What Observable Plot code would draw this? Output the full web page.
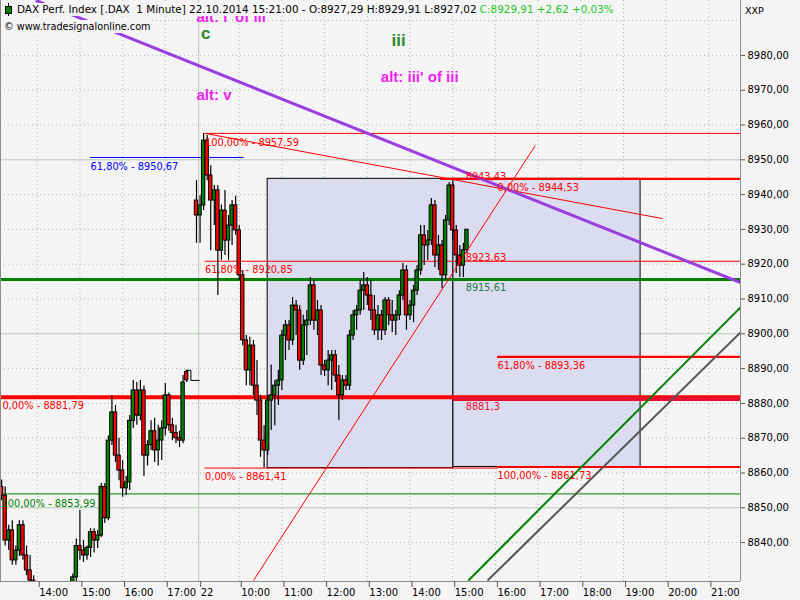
<!DOCTYPE html>
<html><head><meta charset="utf-8">
<script src="https://cdn.jsdelivr.net/npm/d3@7"></script>
<script src="https://cdn.jsdelivr.net/npm/@observablehq/plot@0.6"></script>
<style>
body{margin:0;background:#f4f4f4;}
#wrap{position:relative;width:800px;height:600px;overflow:hidden;}
#wrap svg.plot{position:absolute;left:0;top:0;}
.hdr{position:absolute;background:#f4f4f4;font-family:"DejaVu Sans",sans-serif;white-space:pre;color:#000;z-index:2;}
.ico{position:absolute;z-index:3;}
</style></head><body>
<div id="wrap"></div>
<script>
// ---------- data ----------
const candleDay1Start = "13:10", candleDay1Count = 53;   // 21.10.2014, 5-minute bars
const candleDay2Start = "9:00",  candleDay2Count = 77;   // 22.10.2014
const candleOpen = [
 8856,8853.5,8840.6,8843.5,8834.9,8837.7,8845,8836.3,8832,8829.1,
 8824.5,8820,8818,8821,8819,8822,8824,8823,8825,8826,8827,8830,
 8839,8837.7,8836.3,8838.5,8843,8840.6,8842,8856,8847,8869.3,8877.4,8865,
 8860.7,8855.6,8857.3,8875,8883.7,8876.5,8883.7,8865,8868,8872,8866.5,8869.3,
 8872.8,8882.3,8873.7,8871.5,8870,8869.3,8889,
 8938.3,8934.0,8936.9,8955.5,8945.5,8938.3,8941.2,8923.9,8935.4,8926.8,8931.1,8936.9,
 8929.7,8916.8,8898.1,8889.5,8896.6,8885.1,8880.8,8869.3,8866.5,8880.8,8882.3,8885.1,
 8886.6,8899.5,8902.4,8898.1,8908.1,8906.7,8892.3,8902.4,8903.8,8913.9,8903.8,8906.7,
 8890.9,8889.5,8892.3,8893.8,8888.0,8882.3,8886.6,8885.1,8899.5,8905.3,8906.7,8912.4,
 8913.9,8911.0,8906.7,8901.0,8905.3,8901.0,8909.6,8905.3,8903.8,8905.3,8911.0,8918.2,
 8905.3,8908.1,8912.4,8918.2,8928.3,8925.4,8926.8,8936.9,8922.5,8925.4,8916.8,8932.6,
 8942.6,8929.7,8922.5,8919.6,8924.0];
const candleHigh = [
 8858,8856,8845,8846.3,8839,8846.3,8846.3,8839,8836.3,8830.5,
 8827,8824,8823,8826,8825,8827,8828,8827,8828,8828.5,8831,8841,
 8849.2,8840.6,8839,8844,8844,8843.5,8857,8857,8870.6,8882.2,8879.4,8870,
 8863.6,8859,8876.5,8886.6,8886,8886.6,8885,8869.3,8875,8875.7,8873.7,8875,
 8885.7,8883,8875.7,8873.7,8872,8888,8889.5,
 8944.0,8939.7,8957.59,8957.0,8948.3,8942.6,8942.6,8937.0,8941.2,8934.0,8938.3,8939.5,
 8931.1,8918.2,8899.5,8899.0,8898.1,8892.3,8882.3,8873.6,8882.3,8891.0,8886.6,8889.5,
 8901.0,8903.8,8903.8,8910.4,8909.6,8908.1,8905.3,8906.7,8916.2,8915.3,8909.6,8908.1,
 8892.3,8895.2,8895.2,8895.2,8890.9,8888.0,8888.0,8901.0,8906.7,8908.1,8915.3,8917.6,
 8916.2,8915.3,8911.0,8908.1,8906.7,8910.4,8910.4,8909.6,8906.7,8912.4,8920.2,8919.6,
 8909.6,8913.9,8919.6,8931.1,8931.1,8929.7,8938.9,8938.3,8928.3,8926.8,8934.0,8943.43,
 8943.0,8931.1,8925.4,8926.0,8929.91];
const candleLow = [
 8852,8839,8837.7,8833.5,8833.5,8836,8834.9,8830.5,8827.7,8823,
 8818,8815,8814,8817,8815,8818,8819,8820,8821,8822,8825,8828.5,
 8834.9,8834.3,8834.9,8835.7,8837,8838.3,8841.4,8845.5,8846.3,8867.9,8863,8857.8,
 8853,8853.5,8855,8872.8,8873.7,8875,8859,8862,8866.5,8863,8862,8863.6,
 8870.6,8872,8869.3,8868.4,8867.3,8868.4,8886,
 8926.0,8926.0,8935.4,8944.0,8923.9,8931.1,8911.0,8921.1,8922.5,8921.1,8925.4,8928.3,
 8915.3,8896.6,8885.1,8885.1,8882.3,8876.5,8864.5,8861.41,8865.0,8872.2,8873.6,8879.4,
 8883.7,8892.3,8895.2,8896.6,8899.5,8889.5,8890.9,8893.8,8902.4,8901.0,8899.5,8888.0,
 8887.7,8885.1,8883.7,8886.0,8875.1,8880.8,8883.7,8883.7,8898.1,8901.0,8905.3,8906.7,
 8908.1,8903.8,8899.5,8898.1,8898.1,8899.5,8902.4,8900.4,8899.5,8903.8,8909.6,8901.0,
 8903.8,8903.2,8911.0,8916.8,8919.6,8921.1,8925.4,8919.0,8918.2,8913.0,8915.3,8931.1,
 8926.8,8917.3,8916.2,8916.2,8923.0];
const candleClose = [
 8853.5,8840.6,8843.5,8834.9,8837.7,8845,8836.3,8832,8829.1,8824.5,
 8820,8818,8821,8819,8822,8824,8823,8825,8826,8827,8830,8839,
 8837.7,8836.3,8838.5,8843,8840.6,8842,8856,8847,8869.3,8877.4,8865,8860.7,
 8855.6,8857.3,8875,8883.7,8876.5,8883.7,8865,8868,8872,8866.5,8869.3,8872.8,
 8882.3,8873.7,8871.5,8870,8869.3,8886,8886.6,
 8934.0,8936.9,8955.5,8945.5,8938.3,8941.2,8923.9,8935.4,8926.8,8931.1,8936.9,8929.7,
 8916.8,8898.1,8889.5,8896.6,8885.1,8880.8,8869.3,8866.5,8880.8,8882.3,8885.1,8886.6,
 8899.5,8902.4,8898.1,8908.1,8906.7,8892.3,8902.4,8903.8,8913.9,8903.8,8906.7,8890.9,
 8889.5,8892.3,8893.8,8888.0,8882.3,8886.6,8885.1,8899.5,8905.3,8906.7,8912.4,8913.9,
 8911.0,8906.7,8901.0,8905.3,8901.0,8909.6,8905.3,8903.8,8905.3,8911.0,8918.2,8905.3,
 8908.1,8912.4,8918.2,8928.3,8925.4,8926.8,8936.9,8922.5,8925.4,8916.8,8932.6,8942.6,
 8929.7,8922.5,8919.6,8924.0,8929.91];

// previous-close step after the 21.10 session
const closeStepTimes = ["21 17:29","21 17:36","22 9:04"];
const closeStepValues = [8889.5, 8886.6, 8886.6];

// x axis ticks
const xTickTimes = ["21 14:00","21 15:00","21 16:00","21 17:00","22 9:03","22 10:00","22 11:00","22 12:00","22 13:00","22 14:00","22 15:00","22 16:00","22 17:00","22 18:00","22 19:00","22 20:00","22 21:00"];
const xTickLabels = ["14:00","15:00","16:00","17:00","22","10:00","11:00","12:00","13:00","14:00","15:00","16:00","17:00","18:00","19:00","20:00","21:00"];
const yTicks = [8840,8850,8860,8870,8880,8890,8900,8910,8920,8930,8940,8950,8960,8970,8980];

// Fibonacci set from the 22.10 high
const fibAValues = [8957.59, 8920.85, 8861.41];
const fibALabels = ["100,00% - 8957,59","61,80% - 8920,85","0,00% - 8861,41"];
const fibAFrom = "22 9:12";
const fibATo = ["END","END","22 16:03"];
// Fibonacci projection
const fibBValues = [8944.53, 8893.36, 8861.73];
const fibBLabels = ["0,00% - 8944,53","61,80% - 8893,36","100,00% - 8861,73"];
const fibBFrom = ["22 14:43","22 16:03","22 16:03"];
const fibBLabelAt = "22 16:03";
// Fibonacci set from 21.10
const fibCValues = [8881.79, 8853.99];
const fibCLabels = ["0,00% - 8881,79","100,00% - 8853,99"];
const blueValue = 8950.67, blueLabel = "61,80% - 8950,67", blueFrom = "21 15:15", blueTo = "22 10:07";
// support / resistance
const greenLevel = 8915.61, greenLabel = "8915,61";
const pivotLevel = 8881.3, pivotLabel = "8881,3";
const lastBarTime = "22 15:21";
const trendValueLabels = ["8943,43","8923,63"];
const trendValueAtLast = [8943.43, 8923.63];

// trend lines [from, to, price from, price to]
const purpleLine = ["21 13:58","END", 8995.8, 8914.7];
const redFanLine = ["22 9:12","22 19:55", 8957.59, 8933.1];
const redSteepLine = ["22 10:20","22 16:56", 8829.1, 8954.1];
const greenChannel = ["22 15:22","END", 8829.1, 8907.6];
const grayChannel = ["22 15:49","END", 8829.1, 8900.4];

// boxes
const boxFrom = ["22 10:40","22 15:01"];
const boxTo = ["22 15:01","22 19:24"];
const boxLow = [8861.41, 8861.73];
const boxHigh = [8944.53, 8944.53];

// wave labels
const waveTexts = ["alt: i' of iii","c","alt: v","iii","alt: iii' of iii"];
const waveTimes = ["22 9:00","22 9:13","22 9:00","22 13:44","22 13:19"];
const wavePrices = [8991.0, 8986.3, 8968.5, 8984.3, 8973.6];

// ---------- time mapping (two sessions, overnight gap removed) ----------
const SHIFT = 8.7307, U0 = 13.1405, U1 = 30.4707;
const YMIN = 8828.82, YMAX = 8995.78;
function T(s){
  if (s === "START") return U0;
  if (s === "END") return U1;
  const [d, hm] = s.split(" ");
  const [h, m] = hm.split(":").map(Number);
  return h + m/60 + (d === "22" ? SHIFT : 0);
}
function seq(day, start, n){
  const [h,m] = start.split(":").map(Number);
  return Array.from({length:n}, (_, i) => { const t = h*60 + m + 5*i; return `${day} ${Math.floor(t/60)}:${String(t%60).padStart(2,"0")}`; });
}
const candleTimes = [...seq("21", candleDay1Start, candleDay1Count), ...seq("22", candleDay2Start, candleDay2Count)];
const candles = candleTimes.map((t,i) => ({t:T(t), o:candleOpen[i], h:candleHigh[i], l:candleLow[i], c:candleClose[i]}));
const up = candles.filter(d => d.c >= d.o), dn = candles.filter(d => d.c < d.o);
const HALF = 1.7/42.7;

const xTickU = xTickTimes.map(T);
const tickLabel = new Map(xTickU.map((u,i) => [u, xTickLabels[i]]));
const dayTick = T("22 9:03");
const GRID = "#a9bca9", GRIDS = "#b8c8b8";
const RED = "#ff0000", CRIMSON = "#e8102e", GREEN = "#008000", PURPLE = "#9a3ee0";
const LBL = "DejaVu Sans";

const seg = (a) => [{x1:T(a[0]), x2:T(a[1]), y1:a[2], y2:a[3]}];
const fibA = fibAValues.map((v,i) => ({v, a:T(fibAFrom), b:T(fibATo[i]), label:fibALabels[i]}));
const fibB = fibBValues.map((v,i) => ({v, a:T(fibBFrom[i]), b:U1, la:T(fibBLabelAt), label:fibBLabels[i]}));
const boxes = boxFrom.map((f,i) => ({x1:T(f), x2:T(boxTo[i]), y1:boxLow[i], y2:boxHigh[i]}));
const waves = waveTexts.map((t,i) => ({t, x:T(waveTimes[i]), y:wavePrices[i]}));
const last = T(lastBarTime);

const chart = Plot.plot({
  width: 800, height: 600,
  marginTop: 0, marginLeft: 0, marginRight: 60, marginBottom: 19,
  x: {domain: [U0, U1], axis: null},
  y: {domain: [YMIN, YMAX], axis: null},
  style: {background: "#f4f4f4", fontFamily: LBL, fontSize: "10px", color: "#000"},
  marks: [
    // grid
    Plot.ruleY(yTicks.filter(v => v % 50 !== 0).concat([8990]), {stroke: GRID, strokeDasharray: "1,3"}),
    Plot.ruleY(yTicks.filter(v => v % 50 === 0), {stroke: GRIDS}),
    Plot.ruleX(xTickU.filter(u => u !== dayTick), {stroke: GRID, strokeDasharray: "1,3"}),
    Plot.ruleX([dayTick], {stroke: GRIDS}),
    // boxes
    Plot.rect(boxes, {x1:"x1", x2:"x2", y1:"y1", y2:"y2", fill: "#dcdcf0", stroke: "#000", strokeWidth: 1}),
    // level lines
    Plot.ruleY([fibCValues[1]], {stroke: GREEN, strokeWidth: 1}),
    Plot.ruleY([fibCValues[0]], {stroke: RED, strokeWidth: 4}),
    Plot.ruleY([{v: pivotLevel}], {y: "v", x1: T("22 15:01"), x2: U1, stroke: CRIMSON, strokeWidth: 4}),
    Plot.ruleY([greenLevel], {stroke: GREEN, strokeWidth: 3}),
    Plot.ruleY([{v: blueValue}], {y: "v", x1: T(blueFrom), x2: T(blueTo), stroke: "#0000ff", strokeWidth: 1}),
    Plot.ruleY(fibA, {y: "v", x1: "a", x2: "b", stroke: RED, strokeWidth: 1}),
    Plot.ruleY(fibB, {y: "v", x1: "a", x2: "b", stroke: RED, strokeWidth: 2.2}),
    // candles
    Plot.ruleX(candles, {x: "t", y1: "l", y2: "h", stroke: "#000", strokeWidth: 1.2, clip: true}),
    Plot.rect(up, {x1: d => d.t - HALF, x2: d => d.t + HALF, y1: "o", y2: "c", fill: GREEN, stroke: "#000", strokeWidth: 1, clip: true}),
    Plot.rect(dn, {x1: d => d.t - HALF, x2: d => d.t + HALF, y1: "o", y2: "c", fill: RED, stroke: "#000", strokeWidth: 1, clip: true}),
    Plot.line(closeStepTimes.map((t,i) => ({x: T(t), y: closeStepValues[i]})), {x: "x", y: "y", curve: "step-after", stroke: "#000", strokeWidth: 1}),
    // trend lines
    Plot.link(seg(redFanLine), {x1:"x1", x2:"x2", y1:"y1", y2:"y2", stroke: RED, strokeWidth: 1, clip: true}),
    Plot.link(seg(redSteepLine), {x1:"x1", x2:"x2", y1:"y1", y2:"y2", stroke: RED, strokeWidth: 1, clip: true}),
    Plot.link(seg(greenChannel), {x1:"x1", x2:"x2", y1:"y1", y2:"y2", stroke: GREEN, strokeWidth: 2, clip: true}),
    Plot.link(seg(grayChannel), {x1:"x1", x2:"x2", y1:"y1", y2:"y2", stroke: "#555555", strokeWidth: 2, clip: true}),
    Plot.link(seg(purpleLine), {x1:"x1", x2:"x2", y1:"y1", y2:"y2", stroke: PURPLE, strokeWidth: 3, clip: true}),
    // level labels
    Plot.text(fibA, {x: "a", y: "v", text: "label", textAnchor: "start", dy: 9, fill: RED, fontSize: 9.8}),
    Plot.text(fibB, {x: "la", y: "v", text: "label", textAnchor: "start", dy: 9, fill: RED, fontSize: 9.8}),
    Plot.text([blueLabel], {x: T(blueFrom), y: blueValue, text: d => d, textAnchor: "start", dy: 9, fill: "#0000ff", fontSize: 9.8}),
    Plot.text([fibCLabels[0]], {x: U0, y: fibCValues[0], text: d => d, textAnchor: "start", dx: 2, dy: 9, fill: RED, fontSize: 9.8}),
    Plot.text([fibCLabels[1]], {x: U0, y: fibCValues[1], text: d => d, textAnchor: "start", dx: 1, dy: 10, fill: GREEN, fontSize: 9.8}),
    Plot.text([greenLabel], {x: last, y: greenLevel, text: d => d, textAnchor: "start", dx: -2, dy: 8, fill: "#1d7a45", fontSize: 9.8}),
    Plot.text([pivotLabel], {x: last, y: pivotLevel, text: d => d, textAnchor: "start", dx: -2, dy: 8, fill: CRIMSON, fontSize: 9.8}),
    Plot.text([trendValueLabels[0]], {x: last, y: trendValueAtLast[0], text: d => d, textAnchor: "start", dx: -2, dy: -6, fill: RED, fontSize: 9.8}),
    Plot.text([trendValueLabels[1]], {x: last, y: trendValueAtLast[1], text: d => d, textAnchor: "start", dx: -2, dy: 6, fill: RED, fontSize: 9.8}),
    // wave labels
    Plot.text(waves.filter(d => d.t === "c" || d.t === "iii"), {x: "x", y: "y", text: "t", textAnchor: "middle", fill: "#2a8a2a", fontSize: 17, fontWeight: "bold", fontFamily: "Liberation Sans"}),
    Plot.text(waves.filter(d => d.t !== "c" && d.t !== "iii"), {x: "x", y: "y", text: "t", textAnchor: "start", fill: "#ee22ee", fontSize: 15, fontWeight: "bold", fontFamily: "Liberation Sans"}),
    // axes and frame
    Plot.ruleX([U0], {stroke: "#8c8c8c"}),
    Plot.ruleX([U1], {stroke: "#8c8c8c"}),
    Plot.ruleY([YMIN], {stroke: "#8c8c8c"}),
    Plot.axisY(yTicks, {anchor: "right", tickSize: 4, tickPadding: 3, tickFormat: d => d.toFixed(2).replace(".", ","), fontSize: 10, stroke: "#555"}),
    Plot.axisX(xTickU, {anchor: "bottom", tickSize: 6, tickPadding: 1, textAnchor: "start", dx: 2, tickFormat: d => tickLabel.get(d), fontSize: 10, stroke: "#555"})
  ]
});
chart.classList.add("plot");
const wrap = document.getElementById("wrap");
wrap.appendChild(chart);

// header overlay
function addDiv(cls, css, html){ const d = document.createElement("div"); d.className = cls; d.style.cssText = css; d.innerHTML = html; wrap.appendChild(d); return d; }
addDiv("hdr", "left:3px;top:3px;width:14px;height:13px;", "");
addDiv("ico", "left:8px;top:3px;width:1px;height:13px;background:#000;", "");
addDiv("ico", "left:5px;top:6px;width:5px;height:6px;background:#008000;border:1px solid #000;", "");
addDiv("hdr", "left:17px;top:3px;font-size:10.4px;line-height:13px;padding-right:2px;",
  'DAX Perf. Index [.DAX  1 Minute] 22.10.2014 15:21:00 - O:8927,29 H:8929,91 L:8927,02 <span style="color:#1ec81e">C:8929,91 +2,62 +0,03%</span>');
addDiv("hdr", "left:4px;top:20px;font-size:9.7px;line-height:13px;", "\u00A9 www.tradesignalonline.com");
addDiv("hdr", "left:745px;top:5px;font-size:9.5px;line-height:11px;", "XXP");
</script>
</body></html>
